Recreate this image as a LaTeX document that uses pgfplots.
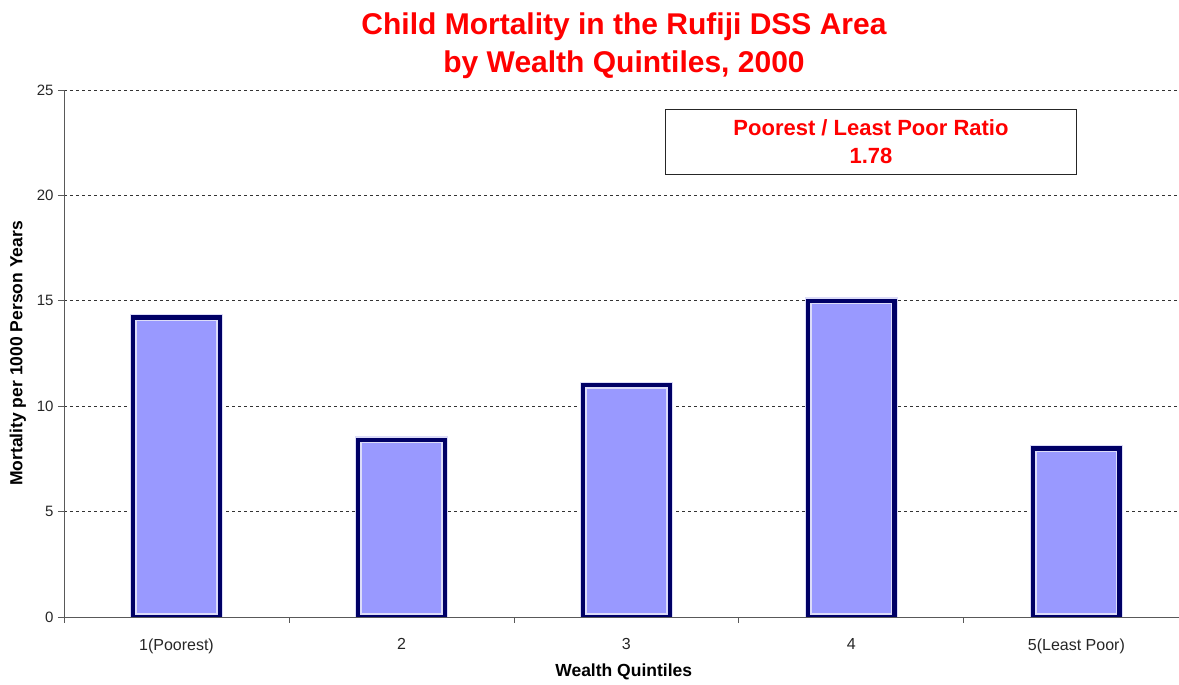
\documentclass[border=0pt]{standalone}
\usepackage{pgfplots}
\pgfplotsset{compat=1.18}
\usepackage{fontspec}
\setmainfont{Liberation Sans}
\definecolor{barfill}{HTML}{9999FF}
\definecolor{barline}{HTML}{000066}
\definecolor{barhi}{HTML}{DCDCF8}
\definecolor{titlered}{HTML}{FF0000}
\pgfplotstableread{
x y
0 14.2
1 8.4
2 11.0
3 15.0
4 8.0
}\mortality
\begin{document}
\begin{tikzpicture}[x=1pt,y=1pt]
\useasboundingbox (0,0) rectangle (1179,685);
\begin{axis}[
  at={(64pt,68pt)}, anchor=south west,
  scale only axis, width=1115pt, height=527pt,
  xmin=-0.5, xmax=4.456, ymin=0, ymax=25,
  axis x line*=bottom, axis y line*=left,
  axis line style={-, draw=black!65, line width=0.9pt},
  ytick={0,5,...,25},
  ymajorgrids,
  grid style={draw=black!80, line width=0.7pt, dash pattern=on 3pt off 3pt},
  xtick={0,1,2,3,4},
  xticklabels={1(Poorest),2,3,4,5(Least Poor)},
  minor xtick={-0.5,0.5,1.5,2.5,3.5},
  major x tick style={draw=none},
  tick align=outside, major tick length=6pt, minor tick length=6pt,
  tick style={draw=black!65, line width=0.9pt},
  /pgf/number format/assume math mode=true,
  yticklabel style={font=\fontsize{15}{17}\selectfont, text=black!85, xshift=-1pt},
  xticklabel style={font=\fontsize{16}{18}\selectfont, text=black!85, yshift=-12pt},
  xlabel={Wealth Quintiles},
  ylabel={Mortality per 1000 Person Years},
  xlabel style={font=\bfseries\fontsize{17.5}{19}\selectfont, at={(axis description cs:0.502,-0.104)}, anchor=center},
  ylabel style={font=\bfseries\fontsize{17.5}{19}\selectfont, at={(axis description cs:-0.0413,0.5)}, anchor=center},
  clip=true,
]
\addplot[ybar, bar width=0.385, bar shift=0pt, fill=barfill, draw=barhi, line width=7pt] table[x=x,y=y] {\mortality};
\addplot[ybar, bar width=0.385, bar shift=0pt, fill=none, draw=barline, line width=4.5pt] table[x=x,y=y] {\mortality};
\node[draw=black!85, line width=0.9pt, fill=white, minimum width=411pt, minimum height=65pt, align=center, text=titlered, font=\bfseries\fontsize{22}{28}\selectfont] at (axis cs:3.087,22.53) {Poorest / Least Poor Ratio\\1.78};
\end{axis}
\node[align=center, text=titlered, font=\bfseries\fontsize{30}{38}\selectfont] at (624,639) {Child Mortality in the Rufiji DSS Area\\by Wealth Quintiles, 2000};
\end{tikzpicture}
\end{document}
